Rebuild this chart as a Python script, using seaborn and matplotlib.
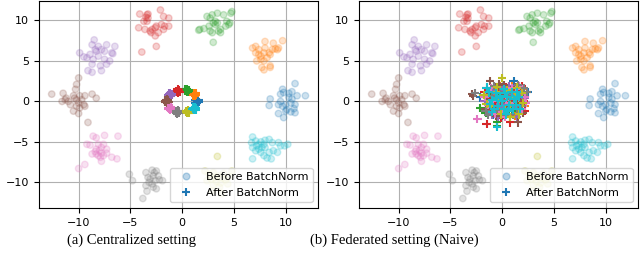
import pandas as pd
import matplotlib
matplotlib.use("Agg")
import matplotlib.pyplot as plt
from matplotlib.lines import Line2D
import seaborn as sns

# cluster names, in tab10 colour order
clusters = ["blue", "orange", "green", "red", "purple",
            "brown", "pink", "gray", "olive", "cyan"]

# features before BatchNorm (same in both panels)
before_blue = [(10.9, 2.2), (11.9, 0.7), (9.7, 1.5), (9.8, 1.1), (9.5, 0.9), (10.6, 1.2),
               (11.1, 0.7), (10.3, 0.5), (8.5, 0.3), (8.4, -0.5), (9.3, -0.4), (9.7, -0.6),
               (10.0, -0.4), (10.5, -0.2), (10.9, -0.4), (10.8, -0.9), (10.5, -1.3), (9.3, -1.5),
               (9.8, -2.0), (10.1, -1.0), (9.5, 0.0), (10.3, 1.0), (10.6, 0.3), (10.0, -1.2),
               (10.9, -1.4)]
before_orange = [(6.8, 6.6), (7.1, 6.8), (7.4, 6.4), (8.0, 7.4), (8.0, 6.6), (8.8, 7.2),
                 (9.7, 7.5), (9.0, 6.5), (9.2, 6.4), (8.4, 6.0), (8.5, 5.8), (7.9, 6.0),
                 (7.4, 5.8), (7.1, 6.0), (7.6, 5.2), (7.9, 5.0), (7.2, 5.0), (7.7, 4.2),
                 (7.9, 3.9), (8.5, 4.4), (8.5, 4.2), (8.2, 5.4), (9.3, 6.6), (8.7, 6.4),
                 (7.6, 5.6)]
before_green = [(1.7, 8.9), (2.1, 9.0), (2.6, 9.3), (2.4, 10.5), (2.9, 10.7), (3.4, 10.9),
                (4.0, 10.7), (4.7, 10.9), (4.8, 11.1), (3.0, 9.7), (3.2, 9.5), (2.9, 8.5),
                (2.7, 8.7), (3.5, 8.7), (3.7, 8.9), (4.2, 9.3), (4.5, 9.5), (4.3, 9.9),
                (4.6, 9.7), (3.2, 9.9), (3.0, 7.3), (1.6, 8.8), (3.7, 8.5), (2.7, 10.3),
                (3.4, 9.7)]
before_red = [(-4.1, 10.8), (-3.4, 10.7), (-3.3, 10.3), (-3.4, 9.9), (-3.7, 9.9), (-4.2, 9.1),
              (-3.6, 8.9), (-3.1, 8.7), (-2.9, 8.9), (-2.6, 9.1), (-2.5, 9.3), (-2.1, 11.3),
              (-1.8, 10.5), (-1.3, 10.3), (-2.0, 9.5), (-1.7, 9.3), (-1.3, 9.3), (-1.8, 8.9),
              (-2.3, 8.5), (-2.6, 8.1), (-2.5, 6.8), (-3.9, 6.1), (-3.3, 10.8), (-3.5, 10.4),
              (-3.0, 8.5)]
before_purple = [(-8.5, 7.6), (-8.7, 7.0), (-8.1, 6.8), (-7.3, 7.0), (-6.5, 6.8), (-8.4, 6.4),
                 (-7.8, 6.4), (-7.5, 6.2), (-6.8, 6.0), (-9.9, 6.0), (-9.5, 5.5), (-8.9, 5.8),
                 (-8.6, 5.2), (-8.1, 5.6), (-7.5, 5.2), (-7.0, 5.0), (-8.7, 4.6), (-7.9, 4.4),
                 (-9.1, 3.8), (-8.7, 3.6), (-7.3, 4.6), (-8.3, 6.2), (-9.2, 5.4), (-6.7, 5.9),
                 (-7.8, 3.8)]
before_brown = [(-10.0, 2.9), (-10.2, 2.1), (-10.3, 1.5), (-12.6, 0.9), (-11.5, 1.0), (-11.3, 0.2),
                (-11.6, 0.0), (-11.0, 0.0), (-10.5, 0.7), (-10.4, 0.4), (-10.2, 0.2), (-9.9, 0.7),
                (-9.7, 0.2), (-9.4, 0.7), (-8.7, 0.9), (-8.3, 0.4), (-10.8, -0.4), (-10.0, -0.2),
                (-9.5, -0.4), (-9.9, -0.8), (-9.4, -0.6), (-10.5, -1.2), (-10.0, -1.5), (-9.1, -2.6),
                (-11.2, 0.4), (-10.2, -0.6)]
before_pink = [(-8.6, -4.3), (-8.3, -4.5), (-7.5, -4.2), (-6.2, -4.3), (-9.2, -5.3), (-8.9, -5.4),
               (-8.1, -5.3), (-7.6, -5.3), (-7.8, -5.7), (-8.3, -5.9), (-8.0, -6.1), (-7.3, -5.9),
               (-8.7, -6.5), (-8.3, -6.5), (-7.8, -6.4), (-7.3, -6.4), (-7.9, -6.9), (-6.8, -6.9),
               (-6.3, -7.1), (-9.4, -7.8), (-10.0, -8.3), (-7.8, -7.4), (-8.1, -6.7), (-8.4, -6.2),
               (-7.6, -6.7)]
before_gray = [(-5.1, -9.0), (-4.8, -9.8), (-3.5, -8.8), (-2.9, -8.5), (-2.5, -8.6), (-3.3, -9.4),
               (-2.8, -9.2), (-3.1, -9.6), (-2.6, -9.8), (-2.2, -9.7), (-1.9, -9.8), (-3.5, -10.4),
               (-2.9, -10.2), (-2.5, -10.8), (-3.4, -11.1), (-3.8, -12.0), (-2.8, -10.6), (-3.2, -10.0),
               (-2.7, -8.8), (-2.3, -9.2)]
before_olive = [(3.4, -6.8), (2.2, -8.6), (2.6, -9.0), (3.0, -8.8), (3.5, -9.2), (4.0, -8.9),
                (4.5, -9.3), (2.8, -9.6), (3.3, -9.9), (3.7, -10.1), (4.2, -9.7), (3.0, -10.3),
                (3.6, -10.6), (2.4, -9.8), (4.8, -8.6), (3.9, -9.5), (3.2, -9.4), (4.4, -10.2),
                (2.9, -11.1), (3.8, -11.4)]
before_cyan = [(6.8, -4.4), (6.7, -5.1), (7.1, -4.9), (7.6, -5.0), (8.0, -4.8), (8.4, -4.7),
               (8.7, -5.1), (9.3, -5.1), (9.5, -5.5), (6.8, -5.7), (7.2, -5.5), (7.4, -5.9),
               (7.7, -5.7), (8.0, -5.7), (7.6, -6.3), (8.4, -6.3), (8.8, -6.1), (9.2, -6.3),
               (7.9, -6.7), (8.2, -7.0), (8.6, -7.1), (6.8, -7.1), (7.4, -5.3), (7.9, -5.3),
               (7.1, -6.1), (9.9, -5.5), (10.2, -5.3)]

# (a) centralized: features after BatchNorm, small blobs on a ring
cent_blue = [(1.42, 0.0), (1.25, 0.12), (1.60, -0.08), (1.40, 0.22), (1.45, -0.22), (1.28, -0.14), (1.57, 0.14), (1.50, 0.02)]
cent_orange = [(1.16, 0.86), (1.00, 0.95), (1.32, 0.78), (1.12, 1.06), (1.22, 0.68), (1.03, 0.74), (1.30, 0.98), (1.18, 0.90)]
cent_green = [(0.45, 1.35), (0.28, 1.28), (0.62, 1.42), (0.42, 1.54), (0.50, 1.18), (0.32, 1.46), (0.60, 1.24), (0.46, 1.40)]
cent_red = [(-0.42, 1.27), (-0.60, 1.32), (-0.25, 1.20), (-0.45, 1.48), (-0.38, 1.10), (-0.57, 1.14), (-0.28, 1.40), (-0.44, 1.30)]
cent_purple = [(-1.16, 0.86), (-1.33, 0.78), (-1.00, 0.94), (-1.20, 1.04), (-1.10, 0.70), (-1.30, 0.96), (-1.03, 0.78), (-1.18, 0.88)]
cent_brown = [(-1.48, 0.04), (-1.66, 0.10), (-1.30, -0.04), (-1.50, 0.22), (-1.45, -0.16), (-1.63, -0.10), (-1.34, 0.14), (-1.50, 0.02)]
cent_pink = [(-1.16, -0.86), (-1.33, -0.78), (-1.00, -0.94), (-1.20, -1.04), (-1.10, -0.68), (-1.31, -0.98), (-1.03, -0.78), (-1.18, -0.88)]
cent_gray = [(-0.45, -1.31), (-0.62, -1.24), (-0.28, -1.38), (-0.48, -1.50), (-0.40, -1.14), (-0.60, -1.44), (-0.31, -1.22), (-0.46, -1.33)]
cent_olive = [(0.52, -1.27), (0.35, -1.34), (0.69, -1.20), (0.50, -1.46), (0.56, -1.10), (0.37, -1.16), (0.67, -1.40), (0.53, -1.30)]
cent_cyan = [(1.16, -0.90), (1.00, -0.98), (1.33, -0.82), (1.12, -1.08), (1.22, -0.72), (1.03, -0.76), (1.31, -1.02), (1.18, -0.92)]

# (b) federated naive: features after BatchNorm, one mixed blob
fed_blue = [(0.2, 0.3), (-0.6, 0.8), (0.9, -0.4), (1.5, 0.6), (-1.1, -0.2), (0.4, -1.0),
            (1.1, 2.5), (2.5, 1.1), (-2.1, 0.5), (-0.3, -0.6), (1.8, -0.3), (0.6, 1.2),
            (-1.4, 1.3), (2.0, -1.3), (0.0, -1.8), (-0.9, -1.7), (1.3, 1.8)]
fed_orange = [(0.5, 0.1), (-0.8, 0.4), (1.2, 0.9), (-0.2, -0.9), (0.8, -0.8), (1.9, 0.3),
              (-1.3, -0.7), (0.1, 1.3), (1.6, -1.1), (-0.5, -1.4), (2.0, 1.5), (0.3, -0.3),
              (-1.6, 0.0), (2.2, -0.6), (0.9, 1.9), (-0.2, 1.9), (1.2, -1.8)]
fed_green = [(-0.1, 0.5), (0.7, 0.6), (-0.9, -0.5), (1.3, -0.2), (-2.1, -0.8), (-0.5, -3.0),
             (-0.5, -2.6), (0.4, -1.4), (-1.4, 0.9), (1.7, 1.2), (0.9, -1.2), (-0.3, 1.0),
             (-1.6, -1.4), (2.1, 0.7), (0.2, 1.8), (1.4, -1.5), (-0.8, 1.7)]
fed_red = [(-1.5, -2.8), (0.6, 0.4), (-0.7, -0.1), (1.0, 0.1), (-1.2, 0.3), (0.2, -1.2),
           (1.6, -0.7), (-0.4, 1.5), (1.4, 1.4), (-1.0, -1.2), (2.1, 0.0), (0.8, -2.6),
           (-1.7, 1.2), (2.2, -1.2), (0.4, 1.7), (-0.1, -2.0), (1.9, 1.9)]
fed_purple = [(-0.4, 0.2), (0.9, 0.8), (-1.3, -1.0), (0.3, -0.7), (1.2, -0.6), (-0.9, 1.3),
              (-1.0, -1.6), (0.0, 1.6), (1.8, 0.9), (-1.7, 0.1), (0.6, -1.5), (-0.2, -0.3),
              (-1.5, 1.6), (2.2, 0.4), (1.4, -1.9), (-0.4, -1.9), (0.7, 1.9)]
fed_brown = [(-2.9, 0.9), (-2.8, 0.7), (1.5, -2.6), (-1.2, 2.5), (-0.3, 2.1), (0.3, 0.9),
             (-0.8, -0.8), (1.1, -0.1), (-1.5, 0.5), (0.5, -1.1), (1.7, 0.2), (-0.1, -0.1),
             (-1.6, -1.0), (2.0, -1.4), (0.2, 2.0), (1.2, 1.8), (-0.6, -1.8)]
fed_pink = [(-2.4, -2.2), (1.9, -1.0), (0.7, -0.2), (-0.6, 0.6), (1.3, 1.1), (-1.4, -0.4),
            (0.0, -1.3), (0.9, 1.6), (-0.9, 0.0), (2.2, 0.6), (0.4, 0.5), (-0.7, -1.5),
            (-1.7, 0.6), (1.6, 1.9), (0.3, -1.9), (-1.1, 1.6), (2.3, -0.2)]
fed_gray = [(-2.6, 1.0), (0.1, 0.2), (-1.0, 0.7), (1.4, -0.9), (0.6, 1.0), (-0.5, -1.1),
            (1.9, -0.6), (-1.6, -1.2), (0.8, 0.3), (-0.2, 1.2), (1.0, -1.6), (2.4, 1.2),
            (-1.4, -1.7), (2.1, 1.6), (0.4, -1.7), (-0.8, 1.9), (1.5, 2.0)]
fed_olive = [(0.0, 2.9), (1.6, -1.6), (-0.3, 0.3), (0.8, -0.5), (-1.1, -0.6), (1.2, 0.5),
             (-0.6, 1.1), (0.3, -1.0), (1.9, 1.0), (-1.5, -0.3), (0.5, 1.4), (-0.1, -1.6),
             (-1.8, 0.8), (2.0, -0.2), (0.8, -1.9), (-0.5, 1.8), (1.4, 1.7)]
fed_cyan = [(-1.5, 1.7), (-0.5, -3.2), (0.0, 0.0), (0.5, 0.6), (-0.5, 0.4), (0.7, -0.5),
            (-0.4, -0.6), (1.1, 0.3), (-1.0, 0.2), (0.2, -0.9), (0.3, 1.0), (1.3, -0.4),
            (-0.8, -0.9), (0.9, 1.1), (-0.2, 0.7), (0.6, -1.2), (1.6, 0.6), (-1.2, -0.3),
            (1.0, -1.0), (-0.6, 1.0), (1.4, 1.2), (-1.3, 1.1), (0.2, 1.5), (1.7, -0.9),
            (-1.0, -1.3), (0.4, -1.6)]

before = [before_blue, before_orange, before_green, before_red, before_purple,
          before_brown, before_pink, before_gray, before_olive, before_cyan]
after_cent = [cent_blue, cent_orange, cent_green, cent_red, cent_purple,
              cent_brown, cent_pink, cent_gray, cent_olive, cent_cyan]
after_fed = [fed_blue, fed_orange, fed_green, fed_red, fed_purple,
             fed_brown, fed_pink, fed_gray, fed_olive, fed_cyan]


def to_frame(groups):
    rows = []
    for name, pts in zip(clusters, groups):
        for x, y in pts:
            rows.append((x, y, name))
    return pd.DataFrame(rows, columns=["x", "y", "cls"])


df_before = to_frame(before)
palette = dict(zip(clusters, sns.color_palette("tab10", 10)))

fig = plt.figure(figsize=(6.4, 2.75), dpi=100)
ax1 = fig.add_axes([0.061, 0.244, 0.436, 0.754])
ax2 = fig.add_axes([0.561, 0.244, 0.436, 0.754])

for ax, after in [(ax1, after_cent), (ax2, after_fed)]:
    sns.scatterplot(data=df_before, x="x", y="y", hue="cls", hue_order=clusters,
                    palette=palette, alpha=0.22, s=22, edgecolor="face",
                    linewidth=1.0, legend=False, ax=ax)
    sns.scatterplot(data=to_frame(after), x="x", y="y", hue="cls", hue_order=clusters,
                    palette=palette, marker="+", s=36, linewidth=1.5,
                    legend=False, ax=ax)
    ax.set_xlabel("")
    ax.set_ylabel("")
    ax.grid(True)
    ax.set_axisbelow(True)
    ax.tick_params(labelsize=8)
    handles = [
        Line2D([], [], ls="", marker="o", markersize=4.8, color=palette["blue"], alpha=0.3),
        Line2D([], [], ls="", marker="+", markersize=6, mew=1.5, color=palette["blue"]),
    ]
    ax.legend(handles, ["Before BatchNorm", "After BatchNorm"], loc="lower right", fontsize=8)

fig.text(0.205, 0.125, "(a) Centralized setting", ha="center", va="center",
         family="Liberation Serif", fontsize=10.5)
fig.text(0.616, 0.125, "(b) Federated setting (Naive)", ha="center", va="center",
         family="Liberation Serif", fontsize=10.5)

fig.savefig("out.png", dpi=100)
